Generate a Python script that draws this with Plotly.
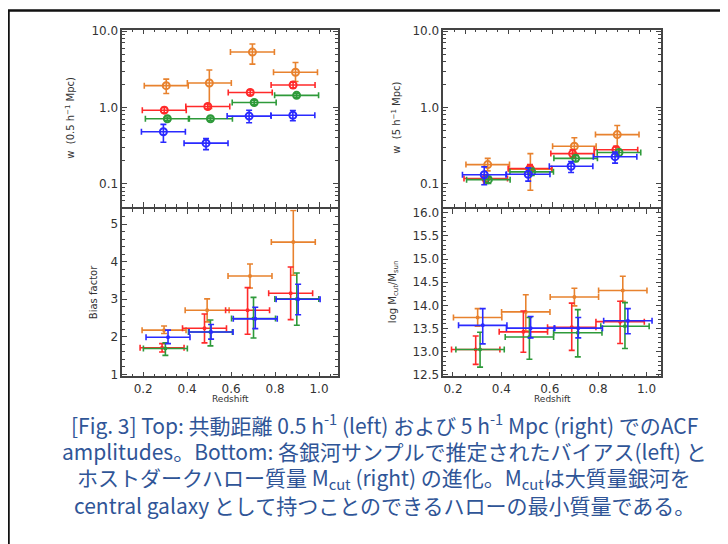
import plotly.graph_objects as go

# ---------------- data ----------------
colors = {"orange": "#E8822E", "red": "#FF2A2A", "green": "#2E9A3A", "blue": "#2A2AFF"}
x_half = 0.1

# Top-left: w(0.5 h^-1 Mpc)
tl_z = {"orange": [0.305, 0.501, 0.697, 0.893], "red": [0.296, 0.494, 0.687, 0.882],
        "green": [0.310, 0.506, 0.705, 0.898], "blue": [0.292, 0.486, 0.682, 0.881]}
tl_w = {"orange": [1.93, 2.09, 5.32, 2.89], "red": [0.92, 1.03, 1.57, 1.97],
        "green": [0.71, 0.71, 1.16, 1.44], "blue": [0.48, 0.34, 0.77, 0.79]}
tl_hi = {"orange": [2.35, 3.10, 6.80, 3.89], "red": [1.00, 1.11, 1.70, 2.15],
         "green": [0.75, 0.75, 1.23, 1.53], "blue": [0.60, 0.39, 0.92, 0.91]}
tl_lo = {"orange": [1.52, 0.97, 3.70, 2.19], "red": [0.85, 0.95, 1.45, 1.80],
         "green": [0.67, 0.67, 1.09, 1.36], "blue": [0.35, 0.28, 0.63, 0.67]}

# Top-right: w(5 h^-1 Mpc)
tr_z = {"orange": [0.304, 0.500, 0.702, 0.899], "red": [0.295, 0.498, 0.694, 0.893],
        "green": [0.307, 0.506, 0.708, 0.907], "blue": [0.288, 0.490, 0.687, 0.889]}
tr_w = {"orange": [0.178, 0.155, 0.31, 0.44], "red": [0.117, 0.158, 0.248, 0.279],
        "green": [0.113, 0.143, 0.215, 0.256], "blue": [0.131, 0.133, 0.169, 0.226]}
tr_hi = {"orange": [0.215, 0.248, 0.40, 0.58], "red": [0.132, 0.178, 0.278, 0.309],
         "green": [0.125, 0.158, 0.235, 0.281], "blue": [0.166, 0.161, 0.195, 0.260]}
tr_lo = {"orange": [0.147, 0.082, 0.25, 0.30], "red": [0.102, 0.138, 0.218, 0.249],
         "green": [0.101, 0.128, 0.195, 0.231], "blue": [0.097, 0.108, 0.140, 0.186]}

# Bottom-left: bias factor
bl_z = {"orange": [0.295, 0.491, 0.686, 0.883], "red": [0.286, 0.479, 0.675, 0.871],
        "green": [0.301, 0.506, 0.702, 0.899], "blue": [0.313, 0.509, 0.710, 0.905]}
bl_b = {"orange": [2.18, 2.71, 3.62, 4.52], "red": [1.71, 2.23, 2.71, 3.16],
        "green": [1.69, 2.13, 2.49, 3.01], "blue": [1.99, 2.13, 2.48, 3.00]}
bl_hi = {"orange": [2.29, 3.01, 3.94, 5.36], "red": [1.82, 2.61, 3.31, 3.86],
         "green": [1.84, 2.45, 3.05, 3.70], "blue": [2.18, 2.33, 2.79, 3.40]}
bl_lo = {"orange": [2.09, 2.40, 3.30, 3.64], "red": [1.60, 1.84, 2.07, 2.46],
         "green": [1.51, 1.76, 1.97, 2.31], "blue": [1.82, 1.94, 2.22, 2.59]}

# Bottom-right: log Mcut/Msun
br_z = {"orange": [0.302, 0.501, 0.702, 0.902], "red": [0.294, 0.491, 0.691, 0.891],
        "green": [0.312, 0.516, 0.716, 0.911], "blue": [0.323, 0.521, 0.718, 0.923]}
br_m = {"orange": [13.74, 13.86, 14.18, 14.32], "red": [13.05, 13.43, 13.53, 13.65],
        "green": [13.05, 13.32, 13.41, 13.55], "blue": [13.57, 13.51, 13.51, 13.67]}
br_hi = {"orange": [13.93, 14.23, 14.37, 14.63], "red": [13.34, 13.88, 14.05, 14.09],
         "green": [13.42, 13.74, 13.91, 14.06], "blue": [13.93, 13.76, 13.74, 13.93]}
br_lo = {"orange": [13.55, 13.45, 13.99, 14.09], "red": [12.73, 12.99, 13.03, 13.18],
         "green": [12.67, 12.84, 12.89, 13.07], "blue": [13.17, 13.30, 13.30, 13.39]}

x_ticks = [0.2, 0.4, 0.6, 0.8, 1.0]
x_ticklabels = ["0.2", "0.4", "0.6", "0.8", "1.0"]
w_ticks = [0.1, 1.0, 10.0]
w_ticklabels = ["0.1", "1.0", "10.0"]
bias_ticks = [1, 2, 3, 4, 5]
m_ticks = [12.5, 13.0, 13.5, 14.0, 14.5, 15.0, 15.5, 16.0]

caption_lines = [
    "[Fig. 3] Top: 共動距離 0.5 h<sup>-1</sup> (left) および 5 h<sup>-1</sup> Mpc (right) でのACF",
    "amplitudes。Bottom: 各銀河サンプルで推定されたバイアス(left) と",
    "ホストダークハロー質量 M<sub>cut</sub> (right) の進化。M<sub>cut</sub>は大質量銀河を",
    "central galaxy として持つことのできるハローの最小質量である。",
]

# ---------------- figure ----------------
# the page body has an 8px margin, so the figure is drawn 8px right/down
OFF = 8
W, H = 720, 536
fig = go.Figure()

def fx(a):
    return (a - OFF) / W

def fy(y):
    return 1 - (y - OFF) / H

def px_x(a, b):
    return [fx(a), fx(b)]

def px_y(top, bottom):
    return [fy(bottom), fy(top)]

panels = [
    ("x", "y", tl_z, tl_w, tl_hi, tl_lo, True),
    ("x3", "y3", tr_z, tr_w, tr_hi, tr_lo, True),
    ("x2", "y2", bl_z, bl_b, bl_hi, bl_lo, False),
    ("x4", "y4", br_z, br_m, br_hi, br_lo, False),
]
order = ["orange", "red", "green", "blue"]
for xa, ya, zd, vd, hd, ld, top in panels:
    for c in order:
        z = zd[c]; v = vd[c]; hi = hd[c]; lo = ld[c]
        fig.add_trace(go.Scatter(
            x=z, y=v, xaxis=xa, yaxis=ya, mode="markers", showlegend=False,
            marker=dict(symbol="circle-open" if top else "circle", size=7 if top else 4,
                        color=colors[c], line=dict(width=2 if top else 0, color=colors[c])),
            error_x=dict(type="data", array=[x_half] * len(z), symmetric=True,
                         color=colors[c], thickness=1.6, width=3),
            error_y=dict(type="data", array=[h - y for h, y in zip(hi, v)],
                         arrayminus=[y - l for l, y in zip(lo, v)], symmetric=False,
                         color=colors[c], thickness=1.6, width=3),
        ))

axis_common = dict(showline=True, linecolor="#444", linewidth=1.5, mirror="ticks",
                   ticks="inside", ticklen=5, tickwidth=1, tickcolor="#444",
                   showgrid=False, zeroline=False,
                   tickfont=dict(family="DejaVu Sans", size=12, color="#333"))

left_dom = px_x(122.3, 337.7)
right_dom = px_x(443.3, 661)
top_dom = px_y(25, 206)
bot_dom = px_y(208.5, 379)

xminor = dict(tickmode="array", tickvals=[round(0.05 * i, 2) for i in range(2, 23)],
              ticklen=3, ticks="inside", tickcolor="#444")
logminor = dict(tickmode="array",
                tickvals=[m * d for d in (0.01, 0.1, 1.0) for m in range(2, 10)],
                ticklen=3, ticks="inside", tickcolor="#444")

fig.update_layout(
    width=W, height=H, margin=dict(l=0, r=0, t=0, b=0),
    paper_bgcolor="white", plot_bgcolor="white",
    xaxis=dict(axis_common, domain=left_dom, range=[0.105, 1.085], anchor="y",
               tickmode="array", tickvals=x_ticks, ticktext=x_ticklabels,
               showticklabels=False, minor=xminor),
    yaxis=dict(axis_common, domain=top_dom, type="log", range=[-1.305, 1.02], anchor="x",
               tickmode="array", tickvals=w_ticks, ticktext=w_ticklabels, minor=logminor),
    xaxis2=dict(axis_common, domain=left_dom, range=[0.105, 1.085], anchor="y2",
                tickmode="array", tickvals=x_ticks, ticktext=x_ticklabels, minor=xminor),
    yaxis2=dict(axis_common, domain=bot_dom, range=[0.95, 5.39], anchor="x2",
                tickmode="array", tickvals=bias_ticks, ticktext=[str(t) for t in bias_ticks],
                minor=dict(tickmode="array", tickvals=[round(0.2 * i, 1) for i in range(5, 28)],
                           ticklen=3, ticks="inside", tickcolor="#444")),
    xaxis3=dict(axis_common, domain=right_dom, range=[0.1, 1.1], anchor="y3",
                tickmode="array", tickvals=x_ticks, ticktext=x_ticklabels,
                showticklabels=False, minor=xminor),
    yaxis3=dict(axis_common, domain=top_dom, type="log", range=[-1.305, 1.02], anchor="x3",
                tickmode="array", tickvals=w_ticks, ticktext=w_ticklabels, minor=logminor),
    xaxis4=dict(axis_common, domain=right_dom, range=[0.16, 1.06], anchor="y4",
                tickmode="array", tickvals=x_ticks, ticktext=x_ticklabels, minor=xminor),
    yaxis4=dict(axis_common, domain=bot_dom, range=[12.47, 16.07], anchor="x4",
                tickmode="array", tickvals=m_ticks, ticktext=[f"{t:.1f}" for t in m_ticks],
                minor=dict(tickmode="array", tickvals=[round(12.4 + 0.1 * i, 1) for i in range(0, 38)],
                           ticklen=3, ticks="inside", tickcolor="#444")),
)

title_font = dict(family="DejaVu Sans", size=10, color="#333")
ann = []
def ytitle(text, xpx, ypx):
    ann.append(dict(text=text, x=fx(xpx), y=fy(ypx), xref="paper", yref="paper",
                    showarrow=False, textangle=-90, font=title_font,
                    xanchor="center", yanchor="middle"))
ytitle("w  (0.5 h<sup>−1</sup> Mpc)", 70, 115)
ytitle("Bias factor", 93, 293)
ytitle("w  (5 h<sup>−1</sup> Mpc)", 396, 115)
ytitle("log M<sub>cut</sub>/M<sub>sun</sub>", 393, 293)
for cx in (230, 552):
    ann.append(dict(text="Redshift", x=fx(cx), y=fy(402), xref="paper", yref="paper",
                    showarrow=False, font=dict(family="DejaVu Sans", size=9, color="#333"),
                    xanchor="center", yanchor="middle"))
for i, line in enumerate(caption_lines):
    ann.append(dict(text=line, x=fx(384), y=fy(428 + 27.3 * i), xref="paper", yref="paper",
                    showarrow=False, xanchor="center", yanchor="middle",
                    font=dict(family="Noto Sans CJK JP", size=21, color="#2F5597")))
fig.update_layout(annotations=ann)

fig.add_shape(type="rect", xref="paper", yref="paper", x0=fx(8.5), x1=1.05,
              y0=-0.05, y1=fy(5.5), line=dict(color="#111", width=2.5), layer="above")

fig.write_html("out.html")
